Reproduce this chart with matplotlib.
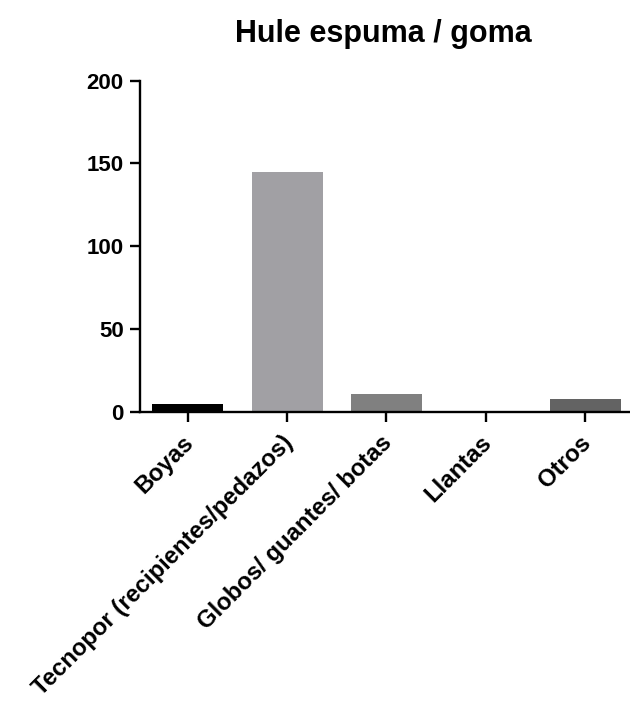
import numpy as np
import matplotlib
matplotlib.use('Agg')
import matplotlib.pyplot as plt
from matplotlib.transforms import ScaledTranslation

plt.rcParams['font.family'] = ['Liberation Sans', 'DejaVu Sans']

# data
categorias = ['Boyas', 'Tecnopor (recipientes/pedazos)', 'Globos/ guantes/ botas',
              'Llantas', 'Otros']
valores = [4.6, 145, 10.6, 0, 7.6]
colores = ['#000000', '#a1a0a4', '#808080', '#707070', '#636363']

fig = plt.figure(figsize=(6.3, 7.02), dpi=100)
ax = fig.add_axes([0.223, 0.4138, 0.777, 0.4711])

x = np.arange(len(categorias))
ax.bar(x, valores, width=0.715, color=colores, edgecolor='none')

ax.set_xlim(-0.475, 4.45)
ax.set_ylim(0, 200)
ax.set_yticks([0, 50, 100, 150, 200])
ax.set_xticks(x)
ax.set_xticklabels([])
for lbl in ax.get_yticklabels():
    lbl.set_fontsize(16)
    lbl.set_fontweight('bold')

# rotated category labels, placed a bit lower than matplotlib's default
trans = ax.get_xaxis_transform() + ScaledTranslation(0.02, -0.275, fig.dpi_scale_trans)
for i, nombre in enumerate(categorias):
    ax.text(x[i], 0, nombre, transform=trans, rotation=45, ha='right', va='center',
            rotation_mode='anchor', fontsize=17.2, fontweight='bold', clip_on=False)

for s in ['top', 'right']:
    ax.spines[s].set_visible(False)
for s in ['left', 'bottom']:
    ax.spines[s].set_linewidth(1.7)
ax.tick_params(axis='both', width=1.7, length=7, pad=5)

fig.text(0.609, 0.94, 'Hule espuma / goma', fontsize=22, fontweight='bold',
         ha='center', va='baseline')

fig.savefig('out.png', dpi=100)
